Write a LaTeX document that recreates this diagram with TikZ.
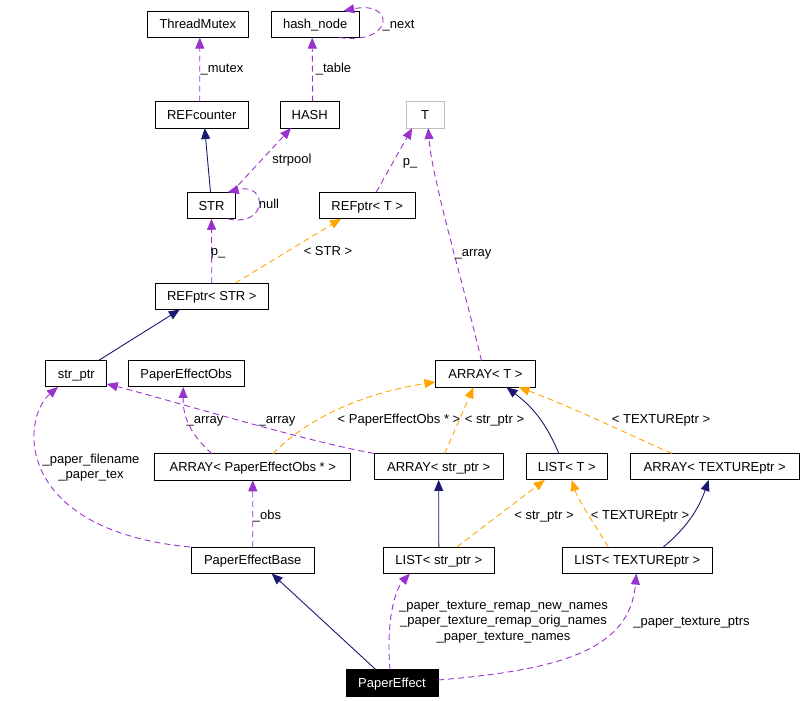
\documentclass[tikz,border=0pt]{standalone}
\usepackage{fontspec}
\setmainfont{Liberation Sans}
\usepackage{tikz}
\usetikzlibrary{arrows.meta,calc}
\definecolor{usecol}{HTML}{9A32CD}
\definecolor{inhcol}{HTML}{191970}
\definecolor{tplcol}{HTML}{FFA500}
\definecolor{boxgray}{HTML}{BFBFBF}

\begin{document}
\begin{tikzpicture}[x=1pt,y=-1pt,
    every node/.style={font=\fontsize{13}{15.7}\selectfont, inner sep=0pt, outer sep=0pt},
    lab/.style={text height=9.5pt, text depth=0.5pt},
    cls/.style={lab, draw=black, line width=1pt, minimum height=26.5pt},
    uses/.style={draw=usecol, line width=0.9pt, dash pattern=on 6pt off 4pt, -{Triangle[length=11pt,width=9pt]}},
    inh/.style={draw=inhcol, line width=0.9pt, -{Triangle[length=11pt,width=9pt]}},
    tpl/.style={draw=tplcol, line width=0.9pt, dash pattern=on 6pt off 4pt, -{Triangle[length=11pt,width=9pt]}}]
    \useasboundingbox (0,0) rectangle (803,701);
    \node[cls, minimum width=101pt] (tmutex) at (197.8,24.3) {ThreadMutex};
    \node[cls, minimum width=88.3pt] (hnode) at (315.2,24.3) {hash\_node};
    \node[cls, minimum width=93.3pt] (refcnt) at (201.7,114.8) {REFcounter};
    \node[cls, minimum width=59.3pt] (hash) at (309.7,114.8) {HASH};
    \node[cls, draw=boxgray, minimum width=38.3pt] (tT) at (425.2,114.8) {T};
    \node[cls, minimum width=48.3pt] (str) at (211.5,205.5) {STR};
    \node[cls, minimum width=96.3pt] (refT) at (367.2,205.5) {REFptr< T >};
    \node[cls, minimum width=113pt] (refS) at (211.8,296.3) {REFptr< STR >};
    \node[cls, minimum width=60.7pt] (strptr) at (76.3,373.7) {str\_ptr};
    \node[cls, minimum width=115.7pt] (peobs) at (186.2,373.7) {PaperEffectObs};
    \node[cls, minimum width=100.3pt] (arrT) at (485.5,374) {ARRAY< T >};
    \node[cls, minimum width=195.7pt] (arrPEO) at (252.8,467) {ARRAY< PaperEffectObs * >};
    \node[cls, minimum width=129.3pt] (arrStr) at (438.7,466.7) {ARRAY< str\_ptr >};
    \node[cls, minimum width=81pt] (listT) at (566.8,466.7) {LIST< T >};
    \node[cls, minimum width=169.3pt] (arrTex) at (714.7,466.7) {ARRAY< TEXTUREptr >};
    \node[cls, minimum width=123.3pt] (peb) at (252.7,560.3) {PaperEffectBase};
    \node[cls, minimum width=111pt] (listStr) at (438.8,560.3) {LIST< str\_ptr >};
    \node[cls, minimum width=150pt] (listTex) at (637.3,560.3) {LIST< TEXTUREptr >};
    \node[cls, fill=black, text=white, minimum width=92pt] (pe) at (392,683) {PaperEffect};

    \draw[uses] ([xshift=-2pt]refcnt.north) -- ([xshift=2pt]tmutex.south);
    \draw[uses] ([xshift=3pt]hash.north) -- ([xshift=-3pt]hnode.south);
    \draw[uses] ([xshift=-20pt]hnode.south east) .. controls (395,45) and (395,0) .. ([xshift=-16pt]hnode.north east);
    \draw[inh] ([xshift=-1pt]str.north) -- ([xshift=3pt]refcnt.south);
    \draw[uses] ([xshift=-4pt]str.north east) -- ([xshift=11pt]hash.south west);
    \draw[uses] ([xshift=-8pt]str.south east) .. controls (268,228) and (268,182) .. ([xshift=-8pt]str.north east);
    \draw[uses] ([xshift=9pt]refT.north) -- ([xshift=-13pt]tT.south);
    \draw[uses] ([xshift=-4pt]arrT.north) .. controls (465,290) and (432,180) .. ([xshift=3pt]tT.south);
    \draw[uses] (refS.north) -- (str.south);
    \draw[tpl] ([xshift=-33pt]refS.north east) -- ([xshift=22pt]refT.south west);
    \draw[inh] ([xshift=-8pt]strptr.north east) -- ([xshift=-32pt]refS.south);
    \draw[uses] ([xshift=-1pt]peb.north west) .. controls (15,530) and (20,420) .. ([xshift=12pt]strptr.south west);
    \draw[uses] ([xshift=57pt]arrPEO.north west) .. controls (185,430) and (183,410) .. ([xshift=-3pt]peobs.south);
    \draw[uses] (arrStr.north west) .. controls (300,440) and (170,400) .. ([yshift=3pt]strptr.south east);
    \draw[tpl] ([xshift=118pt]arrPEO.north west) .. controls (310,415) and (370,392) .. ([yshift=-8pt]arrT.west);
    \draw[tpl] ([xshift=6pt]arrStr.north) -- ([xshift=-12pt]arrT.south);
    \draw[inh] ([xshift=-8pt]listT.north) .. controls (545,420) and (530,405) .. ([xshift=21pt]arrT.south);
    \draw[tpl] ([xshift=42pt]arrTex.north west) .. controls (640,440) and (580,410) .. ([xshift=-17pt]arrT.south east);
    \draw[inh] (listStr.north) -- (arrStr.south);
    \draw[tpl] ([xshift=18pt]listStr.north) -- ([xshift=-22pt]listT.south);
    \draw[tpl] ([xshift=46pt]listTex.north west) .. controls (592,520) and (578,500) .. ([xshift=5pt]listT.south);
    \draw[inh] ([xshift=101pt]listTex.north west) .. controls (690,525) and (700,505) .. ([xshift=-6pt]arrTex.south);
    \draw[uses] (peb.north) -- (arrPEO.south);
    \draw[inh] ([xshift=-16pt]pe.north) -- ([xshift=19pt]peb.south);
    \draw[uses] ([xshift=-2pt]pe.north) .. controls (386,620) and (395,590) .. ([xshift=-29pt]listStr.south);
    \draw[uses] ([yshift=3pt]pe.east) .. controls (560,670) and (630,650) .. ([xshift=-1pt]listTex.south);

    \node[lab] (lmutex) at (222,68.5) {\_mutex};
    \node[lab] (ltable) at (333.5,68.5) {\_table};
    \node[lab] (lnext) at (398.5,24) {\_next};
    \node[lab] (lstrpool) at (292,159) {strpool};
    \node[lab] (lnull) at (269,204) {null};
    \node[lab] (lpT) at (410,160.5) {p\_};
    \node[lab] (lpS) at (218,251) {p\_};
    \node[lab] (lSTR) at (328,250.5) {< STR >};
    \node[lab] (larrT) at (473,251.5) {\_array};
    \node[lab] (larrPEO) at (205,419) {\_array};
    \node[lab] (larrStr) at (277,419) {\_array};
    \node[lab] (lPEO) at (399,419) {< PaperEffectObs * >};
    \node[lab] (lstrT) at (494.5,419) {< str\_ptr >};
    \node[lab] (ltexT) at (661,419) {< TEXTUREptr >};
    \node[lab] (lstrL) at (544,515) {< str\_ptr >};
    \node[lab] (ltexL) at (640,515) {< TEXTUREptr >};
    \node[align=center] (lfile) at (91,467.5) {\_paper\_filename\\\_paper\_tex};
    \node[lab] (lobs) at (267,514.5) {\_obs};
    \node[align=center] (lnames) at (503.5,622) {\_paper\_texture\_remap\_new\_names\\\_paper\_texture\_remap\_orig\_names\\\_paper\_texture\_names};
    \node[lab] (lptrs) at (691.5,620.5) {\_paper\_texture\_ptrs};
\end{tikzpicture}
\end{document}
